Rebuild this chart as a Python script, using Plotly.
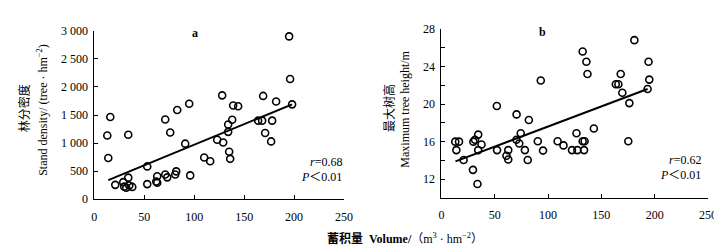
import plotly.graph_objects as go

# ---- Panel a: stand density vs volume ----
vol_a = [195, 196, 198, 128, 169, 182, 139, 144, 95, 83, 71, 16, 13, 34, 76, 138, 134, 134,
         164, 168, 178, 171, 91, 123, 129, 177, 135, 136, 110, 116, 14, 53, 34, 29, 21, 30,
         32, 35, 38, 53, 63, 62, 63, 71, 73, 81, 82, 96]
dens_a = [2900, 2140, 1690, 1850, 1840, 1740, 1670, 1655, 1700, 1590, 1420, 1465, 1135, 1150,
          1190, 1415, 1330, 1200, 1400, 1400, 1400, 1180, 990, 1060, 1010, 1030, 845, 720, 745,
          677, 735, 585, 385, 305, 257, 225, 205, 245, 220, 270, 410, 315, 295, 440, 390, 440,
          497, 425]
trend_a_x = [14, 198]
trend_a_y = [341, 1690]

# ---- Panel b: maximum tree height vs volume ----
vol_b = [181, 132.5, 136, 194.3, 137, 168.2, 93.2, 195, 163.6, 166, 169.7, 193.4, 176.3, 52,
         70.5, 82, 143, 126.7, 74.4, 34.5, 13, 16.5, 14, 20.8, 30, 31.5, 37.6, 34.5, 29.6, 33.8,
         52.2, 61, 62.7, 62.7, 70.4, 73, 78.3, 81, 90.4, 95.3, 109, 114.5, 122.5, 127.5, 133.8,
         132.5, 134.3, 175.3]
height_b = [26.8, 25.6, 24.5, 24.5, 23.2, 23.2, 22.5, 22.6, 22.1, 22.1, 21.2, 21.6, 20.1, 19.8,
            18.9, 18.3, 17.4, 16.9, 16.9, 16.75, 16.0, 16.0, 15.1, 14.05, 16.0, 16.2, 15.7, 15.1,
            13.0, 11.5, 15.1, 14.5, 15.1, 14.1, 16.2, 15.8, 15.1, 14.05, 16.05, 15.05, 16.05,
            15.6, 15.1, 15.1, 15.1, 16.05, 16.05, 16.05]
trend_b_x = [13.2, 193.4]
trend_b_y = [13.9, 21.6]

# ---- ticks ----
x_ticks = [0, 50, 100, 150, 200, 250]
x_ticktext = ["0", "50", "100", "150", "200", "250"]
ya_ticks = [0, 500, 1000, 1500, 2000, 2500, 3000]
ya_ticktext = ["0", "500", "1 000", "1 500", "2 000", "2 500", "3 000"]
yb_ticks = [12, 16, 20, 24, 28]
yb_ticktext = ["12", "16", "20", "24", "28"]
yb_minor_step = 2

SERIF = "Liberation Serif, Times New Roman, Noto Sans CJK SC, serif"
CJK = "Noto Sans CJK SC, Liberation Serif, serif"
W, H = 722, 248

marker = dict(symbol="circle-open", size=7, color="black", line=dict(width=1.6, color="black"))

fig = go.Figure()
fig.add_trace(go.Scatter(x=vol_a, y=dens_a, mode="markers", marker=marker,
                         xaxis="x", yaxis="y", cliponaxis=False, showlegend=False))
fig.add_trace(go.Scatter(x=trend_a_x, y=trend_a_y, mode="lines",
                         line=dict(color="black", width=2), xaxis="x", yaxis="y", showlegend=False))
fig.add_trace(go.Scatter(x=vol_b, y=height_b, mode="markers", marker=marker,
                         xaxis="x2", yaxis="y2", cliponaxis=False, showlegend=False))
fig.add_trace(go.Scatter(x=trend_b_x, y=trend_b_y, mode="lines",
                         line=dict(color="black", width=2), xaxis="x2", yaxis="y2", showlegend=False))

axis_common = dict(showgrid=False, zeroline=False, showline=True, linecolor="black", linewidth=1,
                   ticks="inside", ticklen=4, tickcolor="black", tickwidth=1,
                   tickfont=dict(family=SERIF, size=12, color="black"))

fig.update_layout(
    width=W, height=H,
    margin=dict(l=0, r=0, t=0, b=0),
    paper_bgcolor="white", plot_bgcolor="white",
    font=dict(family=SERIF, size=12, color="black"),
    xaxis=dict(domain=[84.7 / W, 338.7 / W], range=[0, 250], tickvals=x_ticks, ticktext=x_ticktext,
               anchor="y", ticklabelstandoff=6, **axis_common),
    yaxis=dict(domain=[(H - 195.3) / H, (H - 16.7) / H], range=[0, 3000], tickvals=ya_ticks,
               ticktext=ya_ticktext, anchor="x", ticklabelstandoff=3, **axis_common),
    xaxis2=dict(domain=[437.7 / W, 708.7 / W], range=[0, 250], tickvals=x_ticks, ticktext=x_ticktext,
                anchor="y2", ticklabelstandoff=6, **axis_common),
    yaxis2=dict(domain=[(H - 194) / H, (H - 14.7) / H], range=[10, 28], tickvals=yb_ticks,
                ticktext=yb_ticktext, anchor="x2", ticklabelstandoff=3,
                minor=dict(tick0=10, dtick=yb_minor_step, ticks="inside", ticklen=4,
                           tickcolor="black", tickwidth=1, showgrid=False),
                **axis_common),
)

def px_ann(text, x, y, size=12, angle=0, xanchor="center", family=SERIF):
    fig.add_annotation(text=text, x=x / W, y=1 - y / H, xref="paper", yref="paper",
                       showarrow=False, textangle=angle, xanchor=xanchor, yanchor="middle",
                       font=dict(family=family, size=size, color="black"))

# panel letters
px_ann("<b>a</b>", 187, 19)
px_ann("<b>b</b>", 540, 18)

# y titles
px_ann("林分密度", 13, 99, size=12, angle=-90, family=CJK)
px_ann("Stand density/ (tree · hm<sup>−2</sup>)", 32, 100, size=12, angle=-90)
px_ann("最大树高", 384, 99, size=12, angle=-90, family=CJK)
px_ann("Maximum tree height/m", 401, 100, size=12, angle=-90)

# stats
px_ann("<i>r</i>=0.68", 339, 156, xanchor="right")
px_ann("<i>P</i>＜0.01", 339, 172, xanchor="right")
px_ann("<i>r</i>=0.62", 704, 154, xanchor="right")
px_ann("<i>P</i>＜0.01", 704, 170, xanchor="right")

# x title
px_ann("<b>蓄积量</b>  <b>Volume/</b>（m<sup>3</sup> · hm<sup>−2</sup>）", 401, 237, size=12, family=SERIF)

fig.write_html("out.html")
